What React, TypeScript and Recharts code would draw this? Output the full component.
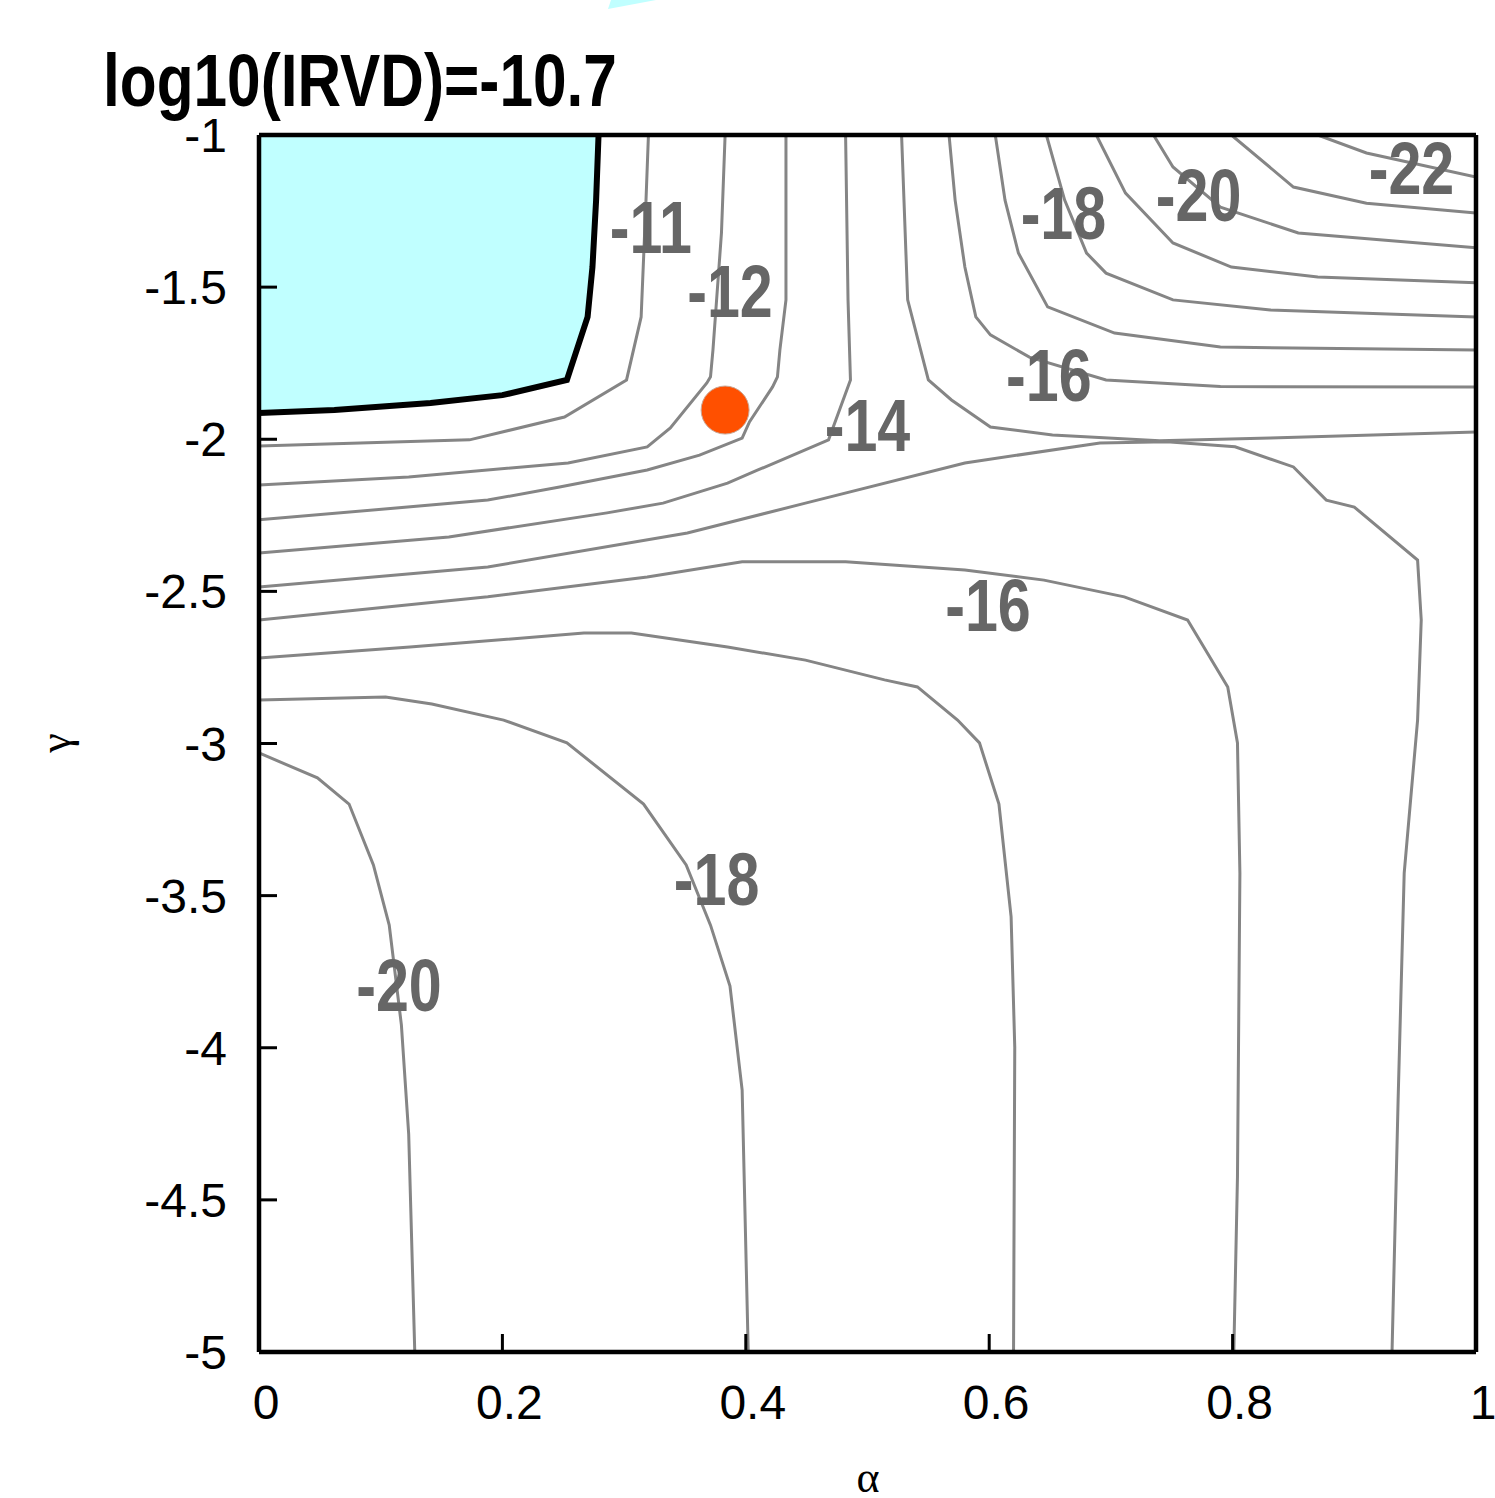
import { Area, ComposedChart, Line, Scatter, XAxis, YAxis } from 'recharts'

// contour lines, [alpha, gamma]
const irvdEdge = [[0, -1.914], [0.062, -1.904], [0.141, -1.881], [0.2, -1.855], [0.253, -1.805], [0.27, -1.598], [0.274, -1.434], [0.277, -1.214], [0.279, -1]]

const c11 = [[0.32, -1], [0.318, -1.214], [0.314, -1.598], [0.302, -1.805], [0.251, -1.927], [0.173, -2.002], [0, -2.022]]
const c12 = [[0.383, -1], [0.38, -1.322], [0.373, -1.707], [0.371, -1.795], [0.368, -1.815], [0.338, -1.963], [0.319, -2.025], [0.254, -2.078], [0.123, -2.124], [0, -2.15]]
const c13 = [[0.433, -1], [0.433, -1.542], [0.428, -1.707], [0.426, -1.795], [0.422, -1.828], [0.403, -1.943], [0.397, -1.996], [0.362, -2.052], [0.319, -2.101], [0.247, -2.157], [0.188, -2.2], [0, -2.265]]
const c14 = [[0.482, -1], [0.484, -1.542], [0.486, -1.805], [0.468, -2.002], [0.41, -2.101], [0.385, -2.144], [0.332, -2.21], [0.286, -2.242], [0.156, -2.321], [0, -2.374]]
const c15a = [[0.528, -1], [0.533, -1.542], [0.55, -1.805], [0.569, -1.871], [0.601, -1.96], [0.652, -1.986], [0.74, -2.005], [0.831, -1.996], [1, -1.976]]
const c15b = [[0, -2.486], [0.188, -2.42], [0.352, -2.308], [0.449, -2.21], [0.58, -2.078], [0.691, -2.012], [0.746, -2.008], [0.802, -2.025], [0.85, -2.091], [0.877, -2.2], [0.9, -2.223], [0.952, -2.397], [0.955, -2.594], [0.952, -2.923], [0.941, -3.426], [0.936, -4.172], [0.931, -5]]
const c16a = [[0.567, -1], [0.572, -1.214], [0.58, -1.434], [0.589, -1.598], [0.601, -1.657], [0.633, -1.73], [0.696, -1.805], [0.79, -1.827], [1, -1.828]]
const c16b = [[0, -2.594], [0.188, -2.518], [0.319, -2.453], [0.397, -2.403], [0.482, -2.403], [0.58, -2.43], [0.645, -2.463], [0.711, -2.518], [0.763, -2.594], [0.796, -2.814], [0.804, -2.998], [0.806, -3.426], [0.804, -4.425], [0.801, -5]]
const c17a = [[0.605, -1], [0.613, -1.214], [0.624, -1.388], [0.648, -1.565], [0.703, -1.651], [0.79, -1.697], [1, -1.707]]
const c17b = [[0, -2.719], [0.124, -2.683], [0.267, -2.637], [0.306, -2.637], [0.385, -2.683], [0.449, -2.726], [0.514, -2.791], [0.541, -2.814], [0.574, -2.923], [0.592, -2.998], [0.608, -3.199], [0.618, -3.57], [0.621, -3.998], [0.62, -5]]
const c18a = [[0.647, -1], [0.662, -1.214], [0.68, -1.388], [0.696, -1.454], [0.751, -1.542], [0.831, -1.575], [1, -1.598]]
const c18b = [[0, -2.857], [0.104, -2.847], [0.142, -2.87], [0.201, -2.923], [0.253, -2.998], [0.316, -3.199], [0.351, -3.399], [0.371, -3.597], [0.387, -3.797], [0.397, -4.139], [0.402, -5]]
const c19 = [[0.688, -1], [0.712, -1.191], [0.751, -1.355], [0.799, -1.434], [0.87, -1.467], [1, -1.486]]
const c20a = [[0.735, -1], [0.751, -1.105], [0.79, -1.237], [0.854, -1.322], [1, -1.371]]
const c20b = [[0, -3.031], [0.048, -3.113], [0.074, -3.199], [0.094, -3.399], [0.107, -3.597], [0.117, -3.925], [0.123, -4.284], [0.128, -5]]
const c21 = [[0.799, -1], [0.85, -1.171], [0.91, -1.224], [1, -1.256]]
const c22 = [[0.87, -1], [0.91, -1.059], [1, -1.138]]

const grayContours = [c11, c12, c13, c14, c15a, c15b, c16a, c16b, c17a, c17b, c18a, c18b, c19, c20a, c20b, c21, c22]

// contour level labels
const labelText = ['-11', '-12', '-14', '-16', '-18', '-20', '-22', '-16', '-18', '-20']
const labelAlpha = [0.322, 0.387, 0.5, 0.649, 0.661, 0.772, 0.947, 0.599, 0.376, 0.115]
const labelGamma = [-1.304, -1.513, -1.952, -1.79, -1.258, -1.196, -1.107, -2.546, -3.445, -3.794]

// marked point
const optimum = [{ x: 0.383, y: -1.904 }]

const xTicks = [0, 0.2, 0.4, 0.6, 0.8, 1]
const yTicks = [-5, -4.5, -4, -3.5, -3, -2.5, -2, -1.5, -1]

const toPts = (a: number[][]) => a.map(([x, y]) => ({ x, y }))
const labels = labelText.map((t, i) => ({ x: labelAlpha[i], y: labelGamma[i], label: t }))

const FONT = '"Liberation Sans", Arial, sans-serif'
const frame = { stroke: '#000', strokeWidth: 4.5 }
const tickLn = { stroke: '#000', strokeWidth: 3 }

function LevelLabel(props: any) {
  const { cx, cy, payload } = props
  return (
    <text transform={`translate(${cx},${cy + 26}) scale(0.8,1)`} textAnchor="middle"
      fontSize={74} fontWeight="bold" fontFamily={FONT} fill="#666">
      {payload.label}
    </text>
  )
}

function Dot(props: any) {
  const { cx, cy } = props
  return <circle cx={cx} cy={cy} r={24} fill="#ff5000" stroke="#c9a898" strokeWidth={1} />
}

export default function App() {
  return (
    <div style={{ position: 'absolute', left: 0, top: 0, width: 1495, height: 1498, background: '#fff' }}>
      <ComposedChart width={1495} height={1498} margin={{ top: 100, right: 0, bottom: 0, left: 0 }}>
        <XAxis dataKey="x" type="number" domain={[0, 1]} ticks={xTicks} allowDataOverflow interval={0}
          height={146} tickSize={-18} tickMargin={51} axisLine={frame} tickLine={tickLn}
          tick={{ fill: '#000', fontSize: 48, fontFamily: FONT, dx: 7 }} />
        <XAxis xAxisId="top" orientation="top" type="number" domain={[0, 1]} ticks={xTicks} allowDataOverflow
          interval={0} height={35} tickSize={-18} tick={false} axisLine={frame} tickLine={tickLn} />
        <YAxis dataKey="y" type="number" domain={[-5, -1]} ticks={yTicks} allowDataOverflow interval={0}
          width={259} tickSize={-18} tickMargin={50} axisLine={frame} tickLine={tickLn}
          tick={{ fill: '#000', fontSize: 48, fontFamily: FONT }} />
        <YAxis yAxisId="right" orientation="right" type="number" domain={[-5, -1]} ticks={yTicks} allowDataOverflow
          interval={0} width={19} tickSize={-18} tick={false} axisLine={frame} tickLine={tickLn} />

        <Area data={toPts(irvdEdge)} dataKey="y" type="linear" baseValue={-1} fill="#c0ffff" fillOpacity={1}
          stroke="none" isAnimationActive={false} dot={false} activeDot={false} />
        {grayContours.map((c, i) => (
          <Line key={i} data={toPts(c)} dataKey="y" type="linear" stroke="#858585" strokeWidth={3}
            dot={false} activeDot={false} isAnimationActive={false} />
        ))}
        <Line data={toPts(irvdEdge)} dataKey="y" type="linear" stroke="#000" strokeWidth={6}
          dot={false} activeDot={false} isAnimationActive={false} />
        <Scatter data={optimum} dataKey="y" shape={<Dot />} isAnimationActive={false} />
        <Scatter data={labels} dataKey="y" shape={<LevelLabel />} isAnimationActive={false} />
      </ComposedChart>

      <svg width={1495} height={1498} style={{ position: 'absolute', left: 0, top: 0, pointerEvents: 'none' }}>
        <polygon points="608,9 611,0 656,0" fill="#c0ffff" />
        <text transform="translate(103,106) scale(0.805,1)" fontSize={75} fontWeight="bold" fontFamily={FONT} fill="#000">
          log10(IRVD)=-10.7
        </text>
        <text x={868} y={1492} textAnchor="middle" fontSize={44} fontFamily='"Liberation Serif", serif' fill="#000">α</text>
        <text transform="translate(70,743) rotate(-90)" textAnchor="middle" fontSize={44}
          fontFamily='"Liberation Serif", serif' fill="#000">γ</text>
      </svg>
    </div>
  )
}
